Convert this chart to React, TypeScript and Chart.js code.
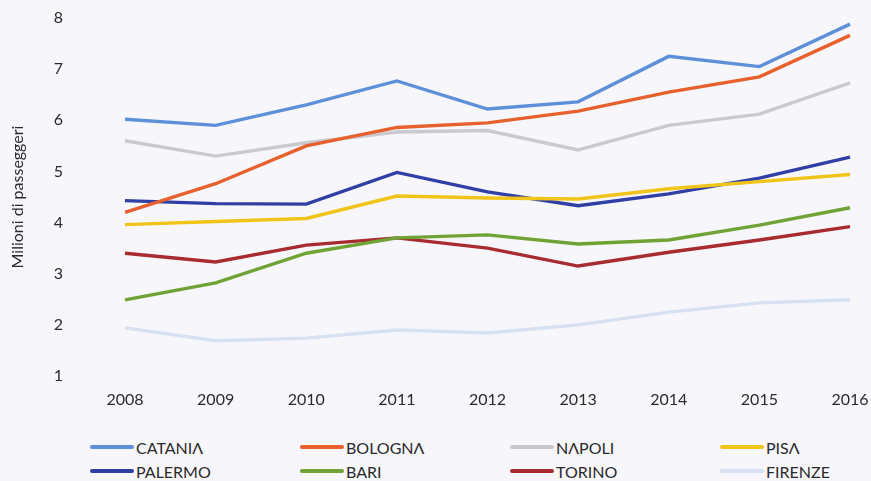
import React, { useEffect, useRef } from "react";
import { Chart, registerables } from "chart.js";

Chart.register(...registerables);

const years = ["2008", "2009", "2010", "2011", "2012", "2013", "2014", "2015", "2016"];
const catania = [6.02, 5.9, 6.3, 6.77, 6.22, 6.36, 7.25, 7.05, 7.88];
const bologna = [4.2, 4.76, 5.5, 5.86, 5.95, 6.18, 6.55, 6.85, 7.66];
const napoli = [5.6, 5.3, 5.56, 5.77, 5.8, 5.42, 5.9, 6.12, 6.73];
const pisa = [3.96, 4.02, 4.08, 4.52, 4.48, 4.46, 4.66, 4.8, 4.94];
const palermo = [4.43, 4.37, 4.36, 4.98, 4.6, 4.33, 4.56, 4.87, 5.28];
const bari = [2.49, 2.82, 3.4, 3.7, 3.76, 3.58, 3.66, 3.95, 4.29];
const torino = [3.4, 3.23, 3.56, 3.7, 3.5, 3.15, 3.42, 3.66, 3.92];
const firenze = [1.94, 1.69, 1.74, 1.9, 1.84, 2.0, 2.25, 2.43, 2.49];

const seriesNames = ["CATANIΛ", "BOLOGNΛ", "NΛPOLI", "PISΛ", "PALERMO", "BARI", "TORINO", "FIRENZE"];
const seriesData = [catania, bologna, napoli, pisa, palermo, bari, torino, firenze];
const seriesColors = ["#5E8FD9", "#E8602C", "#C9C9CF", "#F0C419", "#2F3FA6", "#70A336", "#A82B30", "#D6E1F2"];

const FONT = "Lato, 'Open Sans', sans-serif";
const BG = "#F7F7FB";
const TXT = "#2a2a2a";

export default function App() {
  const ref = useRef<HTMLCanvasElement | null>(null);
  useEffect(() => {
    document.body.style.margin = "0";
    document.body.style.background = BG;
    const ctx = ref.current!.getContext("2d")!;
    const chart = new Chart(ctx, {
      type: "line",
      data: {
        labels: years,
        datasets: seriesNames.map((n, i) => ({
          label: n,
          data: seriesData[i],
          borderColor: seriesColors[i],
          backgroundColor: seriesColors[i],
          borderWidth: 3.4,
          pointRadius: 0,
          tension: 0,
          fill: false,
        })),
      },
      options: {
        animation: false,
        responsive: false,
        maintainAspectRatio: false,
        layout: { padding: { top: 18, right: 21, left: 8, bottom: 0 } },
        plugins: { legend: { display: false }, tooltip: { enabled: false } },
        scales: {
          x: {
            offset: false,
            grid: { display: false, drawTicks: false },
            border: { display: false },
            ticks: { color: TXT, font: { family: FONT, size: 16 }, padding: 14, maxRotation: 0, autoSkip: false },
            afterFit: (s: any) => { s.height = 44; s.paddingLeft = 0; s.paddingRight = 0; },
          },
          y: {
            min: 1,
            max: 8,
            grid: { display: false, drawTicks: false },
            border: { display: false },
            ticks: { stepSize: 1, color: TXT, font: { family: FONT, size: 16 }, padding: 62 },
            title: { display: true, text: "Milioni di passeggeri", color: TXT, font: { family: FONT, size: 16 }, padding: { top: 0, bottom: 0 } },
            afterFit: (s: any) => { s.width = 117; s.paddingTop = 0; s.paddingBottom = 0; },
          },
        },
      },
    });
    return () => chart.destroy();
  }, []);

  return (
    <div style={{ width: 871, height: 481, background: BG, position: "relative", overflow: "hidden" }}>
      <canvas ref={ref} width={871} height={420} style={{ display: "block", width: 871, height: 420 }} />
      <div style={{ position: "absolute", left: 0, top: 436, width: 871 }}>
        {seriesNames.map((n, i) => {
          const col = i % 4;
          const row = Math.floor(i / 4);
          return (
            <div key={n} style={{ position: "absolute", left: 90 + col * 210, top: row * 24, display: "flex", alignItems: "center", height: 22, fontFamily: FONT, fontSize: 16, color: TXT, whiteSpace: "nowrap" }}>
              <span style={{ display: "inline-block", width: 44, height: 4, background: seriesColors[i], marginRight: 2, borderRadius: 2 }} />
              <span>{n}</span>
            </div>
          );
        })}
      </div>
    </div>
  );
}
